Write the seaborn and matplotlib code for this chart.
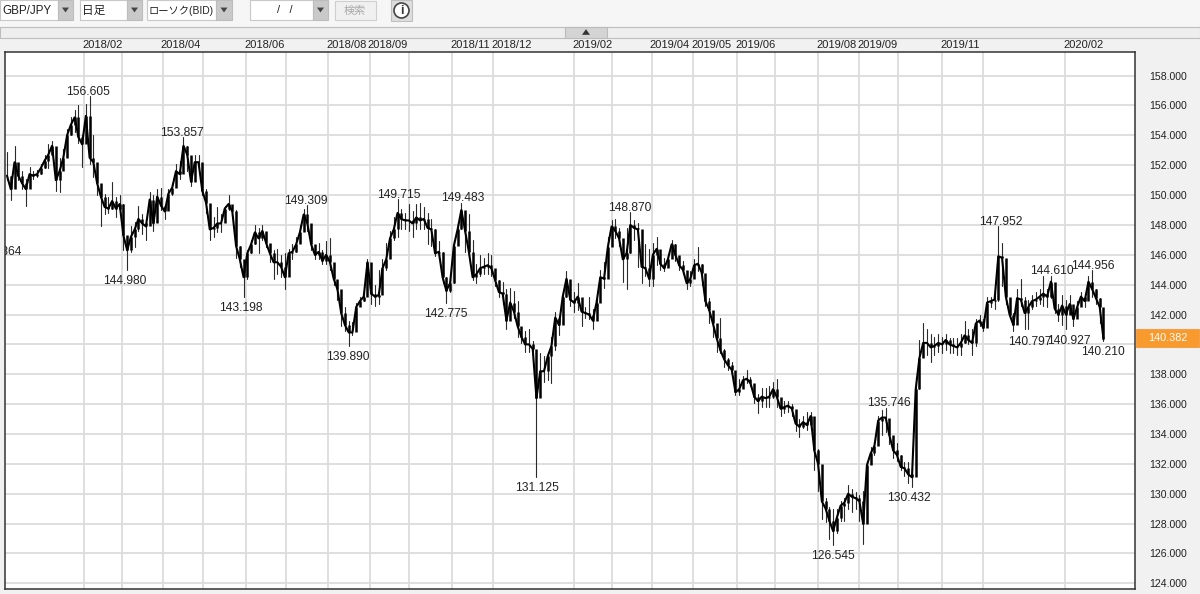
import matplotlib
matplotlib.use("Agg")
import matplotlib.pyplot as plt
from matplotlib.patches import Rectangle, Polygon, Ellipse
from matplotlib.transforms import ScaledTranslation
import pandas as pd
import seaborn as sns

closes = [
151.3,150.4,152.2,151.3,150.8,150.4,151.4,151.3,151.4,151.8,
152.3,152.7,153.3,151.0,151.6,152.5,154.0,154.7,155.2,153.9,
153.4,155.3,152.5,152.2,150.8,149.9,149.2,149.1,149.6,149.1,
149.4,147.3,146.3,147.2,147.7,148.4,148.1,147.9,149.7,148.1,
149.9,149.3,148.9,150.1,150.5,151.6,151.4,153.3,152.7,150.9,
152.2,152.2,150.3,149.5,147.7,147.8,148.1,148.1,149.1,149.4,
148.9,146.6,145.7,144.5,146.1,146.7,147.5,147.1,147.6,146.8,
146.1,145.5,145.5,145.2,144.5,146.1,146.2,146.7,147.5,148.7,
148.1,146.7,146.0,146.2,145.6,146.0,145.5,144.4,143.7,142.1,
141.3,140.8,140.8,142.5,142.9,143.2,145.5,143.4,143.2,143.3,
145.1,145.7,147.1,147.7,148.8,148.4,148.3,148.3,148.1,148.5,
148.3,148.4,147.8,147.7,146.1,146.2,144.5,143.6,144.1,146.6,
147.7,149.0,147.6,146.2,144.5,144.7,145.1,145.2,145.3,145.1,
144.3,143.5,143.4,141.6,142.8,142.2,141.2,140.5,140.0,140.0,
139.7,136.4,138.2,138.2,139.2,139.9,141.8,141.3,143.2,144.4,
143.0,142.8,143.2,142.2,142.1,142.0,141.6,142.8,144.5,144.4,
146.5,147.9,147.6,147.1,145.7,146.1,148.0,147.8,147.7,145.2,
145.1,144.4,146.0,146.4,145.4,145.1,145.7,146.7,146.0,145.3,
145.0,144.1,144.4,145.3,145.4,144.8,142.9,142.3,141.4,140.4,
139.6,139.0,138.6,138.3,136.8,137.0,137.6,137.7,137.4,136.5,
136.2,136.5,136.4,136.5,137.0,136.5,135.7,135.8,135.9,135.7,
134.7,134.5,134.8,134.6,135.2,132.9,132.0,129.5,129.0,128.2,
127.5,128.4,129.2,129.4,130.0,129.8,129.7,129.5,128.0,131.9,
132.7,133.2,134.9,135.1,135.1,133.9,132.9,132.6,131.8,131.7,
131.3,131.1,137.0,139.1,140.1,140.1,139.8,139.9,140.1,140.0,
140.3,140.0,139.9,139.8,140.1,140.6,140.3,140.1,141.4,141.6,
141.1,142.8,142.9,143.0,145.9,145.8,143.2,142.0,141.3,143.1,
143.0,142.1,142.5,142.9,143.0,143.2,143.4,143.2,144.2,142.4,
142.0,142.6,142.0,142.7,141.7,142.5,143.2,142.9,144.2,143.7,
143.1,142.5,140.382]

highs = [
152.9,151.3,153.3,151.8,151.6,151.1,151.9,151.6,151.7,152.1,
152.7,153.4,153.6,152.4,152.5,153.1,154.4,155.2,155.7,156.0,
154.0,156.1,156.605,154.0,151.6,150.4,150.1,149.9,150.9,149.9,
150.0,149.4,147.2,147.9,148.2,149.3,148.7,148.4,150.2,150.0,
150.4,150.5,149.2,150.4,150.8,152.1,152.3,153.857,153.3,151.8,
152.7,152.7,152.1,150.4,148.7,148.5,149.2,148.7,149.3,150.0,
149.2,149.0,146.6,145.1,146.3,147.0,148.0,147.8,148.0,147.4,
146.7,146.3,146.4,146.0,146.1,146.4,146.7,147.2,148.0,149.1,
149.309,147.7,146.5,146.8,146.3,146.9,147.1,145.0,144.2,142.7,
142.5,141.6,141.5,142.8,143.2,143.5,145.7,144.5,144.0,145.0,
145.7,146.8,147.6,148.5,149.715,149.1,148.8,149.4,148.9,149.4,
149.5,149.2,148.8,148.4,147.7,146.9,146.2,144.5,144.5,147.0,
148.1,149.483,148.9,148.7,147.0,145.4,146.0,145.8,146.1,146.0,
144.8,144.3,144.2,143.7,143.8,143.6,142.9,140.9,140.9,141.0,
140.2,137.2,139.4,139.2,139.4,140.5,142.2,141.9,143.6,144.9,
143.7,143.5,144.1,142.7,142.5,143.2,142.4,143.1,145.0,145.5,
147.2,148.3,148.4,147.8,146.6,147.8,148.87,148.3,148.1,145.8,
146.7,146.4,146.8,147.2,146.1,145.8,146.0,147.0,146.7,145.7,
145.6,144.7,144.9,145.7,146.5,145.4,143.9,143.1,141.8,140.7,
141.8,139.7,139.1,138.8,138.1,137.7,137.9,138.3,137.8,137.3,
136.7,137.1,137.1,137.2,137.5,137.7,136.0,136.2,136.2,136.0,
135.2,135.0,135.2,135.5,135.5,134.4,133.0,130.2,129.7,129.1,
129.0,129.0,129.5,129.7,130.6,130.3,130.1,129.9,130.2,132.2,
133.1,133.5,135.2,135.6,135.746,134.6,133.6,133.4,132.6,132.1,
132.1,131.8,137.8,140.3,141.4,141.0,140.7,140.5,140.7,140.5,
140.7,140.4,140.4,140.4,140.7,141.6,141.0,141.0,141.7,142.0,
141.7,143.2,143.2,143.5,147.952,146.8,143.9,143.0,142.1,143.7,
144.4,143.2,143.0,143.3,143.5,143.7,144.6,143.7,144.61,143.1,
142.7,143.3,143.0,143.3,142.2,142.9,143.5,143.4,144.6,144.956,
143.7,143.1,141.4]

lows = [
151.0,149.7,151.4,151.0,150.4,149.3,151.1,151.1,151.2,151.4,
151.8,151.8,152.9,150.3,150.2,152.2,153.1,154.0,154.2,153.5,
151.9,155.0,152.1,151.2,150.0,147.9,148.7,148.8,149.1,148.5,
148.9,146.3,144.98,146.2,146.5,147.6,147.4,147.0,148.3,147.6,
148.8,149.0,148.4,149.1,150.0,150.8,151.1,152.4,151.6,150.6,
151.4,151.9,150.0,148.8,147.0,147.2,147.5,147.5,148.5,149.0,
148.8,145.8,145.2,143.198,144.4,146.1,146.7,146.1,147.0,146.5,
145.5,144.4,144.7,144.5,143.7,145.5,145.7,146.2,146.8,147.7,
147.6,146.3,145.7,145.7,145.4,145.4,145.0,144.0,143.0,141.2,
140.9,139.89,140.6,141.3,142.7,142.9,144.0,142.7,142.6,142.7,
144.5,145.0,146.7,147.0,147.2,147.7,147.7,147.6,147.2,147.7,
147.7,147.7,146.7,146.6,145.9,145.7,144.1,142.775,143.5,144.1,
146.7,147.7,146.2,146.0,144.3,144.1,144.6,144.7,144.7,144.6,
143.9,143.2,142.7,141.0,142.1,141.8,140.5,140.1,139.5,139.5,
139.5,131.125,137.2,137.5,137.6,137.4,139.6,140.6,142.7,143.2,
142.6,142.2,142.3,141.2,141.8,141.7,141.0,142.5,144.0,143.8,
146.0,147.2,147.1,146.6,144.2,143.7,146.1,147.0,145.2,144.1,
144.6,143.9,143.9,145.3,145.0,144.9,145.2,146.0,145.6,145.0,
144.7,143.7,143.9,145.0,144.9,144.0,142.6,141.4,140.5,139.5,
139.4,138.5,138.3,138.0,136.6,136.6,137.3,137.4,137.2,136.1,
135.4,135.8,135.8,135.8,136.4,135.8,135.2,135.4,135.5,135.2,
134.2,133.8,134.4,134.3,134.4,131.6,130.2,128.3,128.1,127.0,
126.545,127.4,128.2,128.2,129.0,128.8,129.0,128.2,126.6,130.8,
132.0,132.6,134.0,133.9,134.1,133.3,132.4,132.2,131.6,131.2,
130.7,130.432,134.1,137.0,139.3,139.3,138.8,139.3,139.5,139.4,
139.6,139.4,139.4,139.3,139.3,140.1,140.0,139.3,139.9,141.2,
140.9,142.5,142.5,142.4,142.9,143.9,142.7,141.9,140.9,142.1,
142.6,141.0,141.0,142.4,142.6,142.7,142.6,142.5,143.1,142.1,
141.6,141.3,141.0,142.1,141.2,142.0,142.7,142.5,143.8,143.2,
142.7,141.4,140.21]

assert len(closes) == len(highs) == len(lows)

month_pos = [41, 61.25, 83, 104.4, 127.3, 148.6, 171, 193.3, 214, 237, 258.9, 302,
             322.2, 343.5, 365.4, 388.8, 409, 432, 453.8, 474.6, 498, 519.8, 563.5]
month_labels = ["2018/02", "", "2018/04", "", "2018/06", "", "2018/08", "2018/09", "",
                "2018/11", "2018/12", "2019/02", "", "2019/04", "2019/05", "2019/06", "",
                "2019/08", "2019/09", "", "2019/11", "", "2020/02"]
price_ticks = list(range(124, 160, 2))

peak_texts = ["156.605", "144.980", "153.857", "143.198", "149.309", "139.890", "149.715",
              "142.775", "149.483", "131.125", "148.870", "126.545", "135.746", "130.432",
              "147.952", "140.797", "144.610", "140.927", "144.956", "140.210"]
peak_px = [(88, 92), (125, 281), (182, 133), (241, 308), (306, 201), (348, 357), (399, 195),
           (446, 314), (463, 198), (537, 488), (630, 208), (833, 556), (889, 403), (909, 498),
           (1001, 222), (1030, 342), (1052, 271), (1069, 341), (1093, 266), (1103, 352)]
last_price = "140.382"

sns.set_theme(style="white")
plt.rcParams['font.family'] = ['Liberation Sans', 'Noto Sans CJK JP', 'DejaVu Sans']

W, H = 1200, 594
fig = plt.figure(figsize=(12, 5.94), dpi=100, facecolor="#f1f1f1")

def X(p): return p / W
def Y(p): return 1 - p / H

def rect(x0, y0, x1, y1, fc, ec="none", lw=0.8, z=0):
    fig.add_artist(Rectangle((X(x0), Y(y1)), X(x1 - x0), (y1 - y0) / H, transform=fig.transFigure,
                             fc=fc, ec=ec, lw=lw, zorder=z))

def tri(cx, cy, up=False, col="#444444", s=3.5):
    d = -s if up else s
    fig.add_artist(Polygon([(X(cx - s), Y(cy - d * .7)), (X(cx + s), Y(cy - d * .7)), (X(cx), Y(cy + d * .7))],
                           closed=True, transform=fig.transFigure, fc=col, ec="none", zorder=3))

def label(px, py, s, size=8.64, color="#222222", ha="center", **kw):
    fig.text(X(px), Y(py), s, fontsize=size, color=color, ha=ha, va="center", zorder=6, **kw)

# toolbar
rect(0, 0, 1200, 27, "#f6f6f6")
for x0, x1, x2, txt, fs in [(0, 58, 73, "GBP/JPY", 8.4), (80, 127, 142, "日足", 8.4),
                            (147, 216, 232, "ローソク(BID)", 7.4), (250, 313, 328, "/   /", 8)]:
    rect(x0, 0, x1, 20, "white", "#c8c8c8", z=1)
    rect(x1, 0, x2, 20, "#c9c9c9", "#bdbdbd", z=1)
    tri((x1 + x2) / 2, 10)
    if txt.startswith("/"):
        label(285, 10, txt, size=fs)
    else:
        label(x0 + 2, 10.5, txt, size=fs, ha="left")
rect(335, 1, 376, 20, "#f0f0f0", "#cfcfcf", z=1)
label(355, 10.5, "検索", size=8, color="#aaaaaa")
rect(391, 0, 412, 21, "#dddddd", "#c0c0c0", z=1)
fig.add_artist(Ellipse((X(401.5), Y(10.5)), 15 / W, 15 / H, transform=fig.transFigure,
                       fc="white", ec="#444444", lw=1.2, zorder=3))
label(401.5, 10.5, "i", size=9, color="#333333", fontweight="bold")
rect(0, 27, 1200, 37.5, "#eeeeee", "#bdbdbd", z=1)
rect(565, 27, 607, 37.5, "#d4d4d4", "#bbbbbb", z=2)
tri(586, 32, up=True, s=4, col="#333333")

ax = fig.add_axes([X(5), Y(589), 1130 / W, 537 / H], facecolor="white")

rows = []
prev = closes[0]
for i, (cl, hi, lo) in enumerate(zip(closes, highs, lows)):
    rows.append(dict(day=i * 2, price=hi, candle=i, part="wick"))
    rows.append(dict(day=i * 2, price=lo, candle=i, part="wick"))
    rows.append(dict(day=i * 2, price=prev, candle=i, part="body"))
    rows.append(dict(day=i * 2, price=cl, candle=i, part="body"))
    prev = cl
df = pd.DataFrame(rows)
close_df = pd.DataFrame({"day": [i * 2 for i in range(len(closes))], "price": closes})

sns.lineplot(data=df[df.part == "wick"], x="day", y="price", units="candle", estimator=None,
             color="#2a2a2a", lw=0.8, sort=False, ax=ax, zorder=3)
sns.lineplot(data=close_df, x="day", y="price", estimator=None, color="black", lw=1.5, ax=ax, zorder=4)
sns.lineplot(data=df[df.part == "body"], x="day", y="price", units="candle", estimator=None,
             color="black", lw=1.8, sort=False, ax=ax, zorder=4, solid_capstyle="butt")

ax.set_xlim(-1.065, 600.8)
ax.set_ylim(123.62, 159.58)
ax.set_xlabel("")
ax.set_ylabel("")
ax.set_xticks(month_pos)
ax.set_xticklabels(month_labels)
ax.set_yticks(price_ticks)
ax.set_yticklabels([f"{v}.000" for v in price_ticks])
ax.xaxis.tick_top()
ax.yaxis.tick_right()
ax.grid(True, color="#dcdcdc", lw=1.3)
ax.set_axisbelow(True)
ax.tick_params(axis="x", length=0, pad=1.2, labelsize=8, colors="#222222")
ax.tick_params(axis="y", length=0, pad=10.5, labelsize=7.6, colors="#222222")
shift = ScaledTranslation(-2 / 100, 0, fig.dpi_scale_trans)
for lab in ax.get_xticklabels():
    lab.set_ha("left")
    lab.set_transform(lab.get_transform() + shift)
for s in ax.spines.values():
    s.set_visible(True)
    s.set_color("#333333")
    s.set_linewidth(1.1)

for s, (px, py) in zip(peak_texts, peak_px):
    label(px, py, s)
ax.text(16 / 1130, 1 - (252 - 52) / 537, "147.864", transform=ax.transAxes, ha="right", va="center",
        fontsize=8.64, color="#222222", clip_on=True, zorder=6)

rect(1136, 329, 1199, 347, "#f89a2e", "#f2a04a", z=5)
label(1167.5, 338, last_price, size=7.8, color="white")

fig.savefig("out.png", dpi=100, facecolor=fig.get_facecolor())
